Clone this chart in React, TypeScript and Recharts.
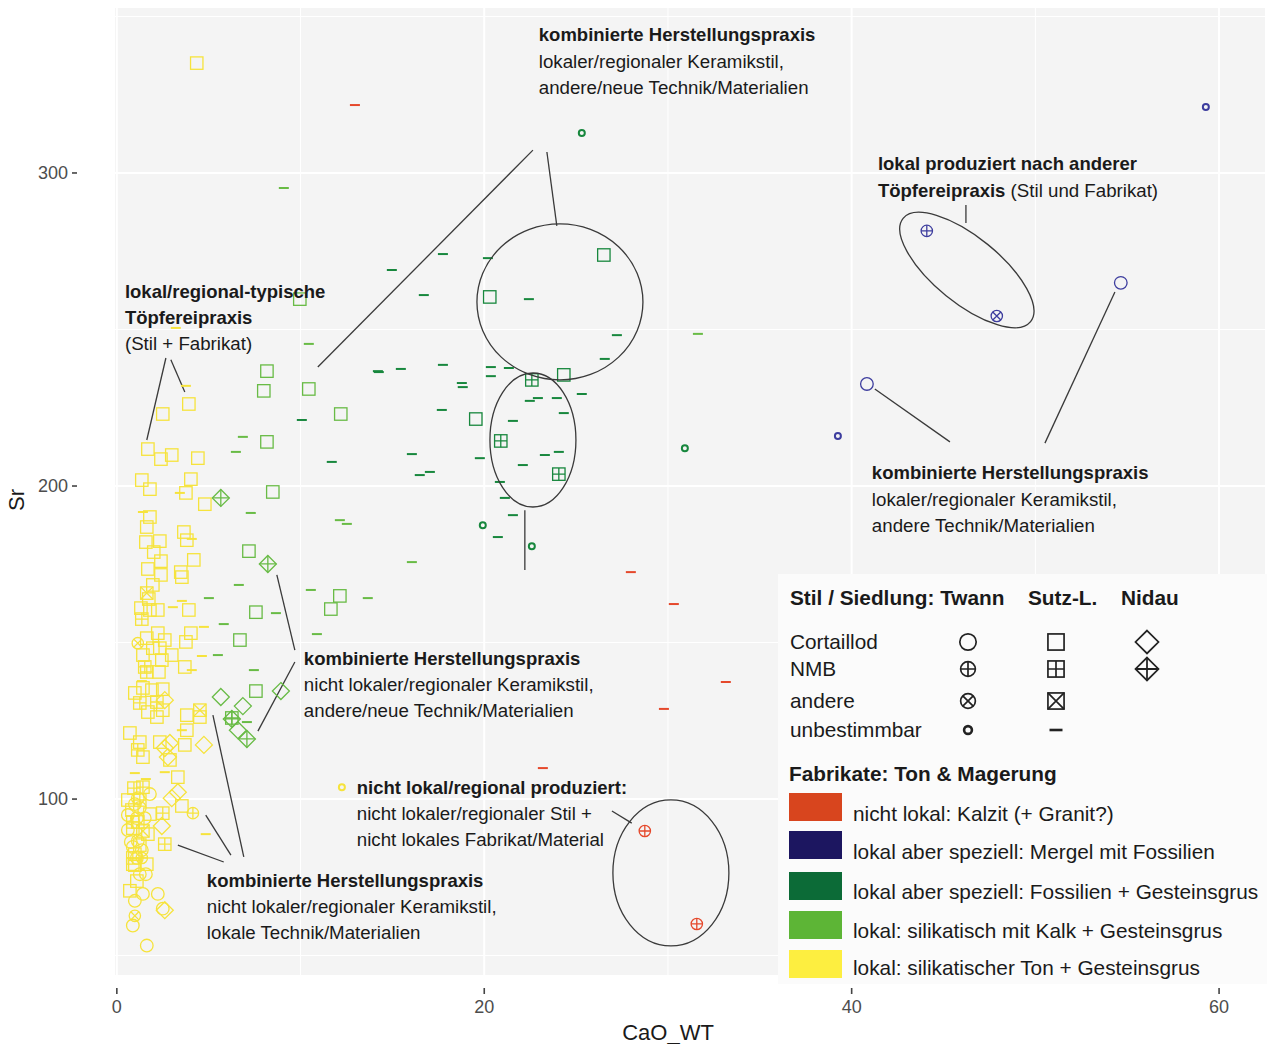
import React from "react";
import {
  ScatterChart,
  Scatter,
  XAxis,
  YAxis,
  CartesianGrid,
  ReferenceLine,
  ReferenceDot,
  Legend,
  Customized,
} from "recharts";

type Pair = [number, number];

// ---- data (CaO_WT, Sr) ----
const yellowSquare: Pair[] = [
  [4.35, 335.1], [3.92, 226.2], [2.5, 223.0], [1.69, 211.8], [2.4, 208.6], [2.99, 209.9], [4.41, 208.9],
  [1.36, 201.9], [1.8, 199.0], [4.03, 202.2], [3.76, 197.8], [4.79, 194.2], [1.8, 190.1], [1.63, 186.9],
  [3.65, 185.3], [3.81, 182.7], [1.58, 182.1], [2.34, 182.4], [2.01, 178.9], [2.4, 176.0], [4.19, 176.4],
  [1.69, 173.5], [2.4, 171.6], [3.48, 172.5], [3.54, 170.9], [1.96, 168.4], [1.74, 163.9], [1.31, 161.0],
  [2.23, 160.4], [1.8, 160.4], [3.92, 160.4], [4.03, 153.0], [3.76, 150.2], [3.7, 142.2], [2.29, 140.6],
  [1.63, 151.4], [2.23, 153.0], [2.61, 150.8], [1.96, 148.2], [2.34, 148.2], [2.99, 146.0], [1.42, 146.0],
  [2.45, 144.4], [0.98, 133.9], [1.42, 135.5], [1.91, 134.8], [2.5, 135.1], [1.69, 127.8], [2.18, 126.2],
  [2.5, 128.4], [3.81, 126.8], [4.52, 126.2], [3.81, 122.0], [0.71, 121.1], [1.25, 118.2], [2.34, 118.2],
  [3.7, 117.3], [1.42, 113.4], [2.89, 112.5], [3.32, 107.0], [3.54, 97.8], [1.8, 95.2], [0.87, 90.7],
  [1.69, 88.8], [0.98, 82.4], [0.87, 79.2], [1.63, 79.2], [1.09, 73.8], [0.71, 70.7],
  [0.82, 96.5], [1.14, 92.7], [0.6, 99.7], [1.25, 85.3], [0.98, 78.9],
];
const yellowSquarePlus: Pair[] = [
  [1.36, 157.5], [1.52, 142.2], [1.63, 140.6], [1.25, 130.7], [2.18, 131.0], [1.14, 115.7], [0.93, 103.5],
  [1.42, 103.8], [2.5, 95.5], [2.61, 85.6], [0.87, 81.2], [1.25, 99.7], [0.87, 92.7],
];
const yellowSquareX: Pair[] = [[1.63, 165.8], [4.52, 128.4], [1.42, 89.8]];
const yellowCircle: Pair[] = [
  [1.8, 101.6], [1.25, 97.2], [1.52, 93.9], [1.09, 93.9], [1.14, 86.6], [1.58, 76.0], [1.25, 76.0],
  [1.42, 69.7], [2.23, 69.7], [0.98, 67.5], [0.87, 59.6], [1.63, 53.2], [0.98, 98.4], [2.5, 65.0],
  [0.87, 84.7], [1.36, 83.7], [0.6, 94.9], [0.6, 90.1], [1.14, 100.3], [0.76, 86.3], [1.09, 81.2],
];
const yellowCirclePlus: Pair[] = [[4.14, 95.5], [1.36, 81.2]];
const yellowCircleX: Pair[] = [[1.14, 149.8], [0.98, 62.7]];
const yellowDot: Pair[] = [[12.25, 103.8]];
const yellowDiamond: Pair[] = [
  [2.61, 131.6], [2.89, 117.9], [2.61, 116.3], [4.74, 117.3], [2.78, 113.4], [3.32, 102.2], [2.99, 100.3],
  [2.45, 91.4], [2.61, 64.5],
];
const yellowDash: Pair[] = [
  [3.21, 250.5], [3.76, 232.0], [1.42, 191.7], [3.43, 197.8], [4.08, 183.1], [3.54, 163.3], [3.05, 161.3],
  [4.74, 155.0], [4.63, 145.7], [4.08, 141.2], [1.36, 137.7], [3.54, 122.0], [0.98, 108.3], [1.58, 106.4],
  [2.61, 108.6], [4.84, 88.8],
];

const greenSquare: Pair[] = [
  [9.96, 259.7], [8.0, 230.4], [8.17, 236.7], [10.45, 231.0], [12.19, 223.0], [8.17, 214.1], [8.49, 198.1],
  [7.19, 179.2], [7.57, 159.7], [12.14, 164.9], [11.65, 160.7], [6.7, 150.8], [7.57, 134.5],
];
const greenSquarePlus: Pair[] = [[6.26, 125.9]];
const greenDiamond: Pair[] = [[5.66, 132.6], [6.86, 129.7], [8.93, 134.5], [6.59, 122.0]];
const greenDiamondPlus: Pair[] = [[5.66, 196.2], [8.22, 175.1], [6.26, 125.6], [7.08, 119.2]];
const greenDash: Pair[] = [
  [9.09, 295.2], [10.45, 245.4], [6.86, 215.7], [6.48, 210.9], [7.29, 191.4], [12.14, 189.1], [12.52, 187.9],
  [16.06, 175.7], [13.66, 164.2], [6.64, 168.4], [5.01, 164.2], [8.66, 159.4], [10.56, 166.8], [5.82, 155.9],
  [5.5, 146.0], [10.89, 152.7], [7.46, 141.2], [7.08, 124.6], [31.63, 248.6],
];

const darkSquare: Pair[] = [[26.51, 273.8], [20.3, 260.4], [24.33, 235.5], [19.54, 221.4]];
const darkSquarePlus: Pair[] = [[22.59, 233.9], [20.9, 214.4], [24.06, 203.8]];
const darkDot: Pair[] = [[25.31, 312.8], [30.92, 212.1], [19.92, 187.5], [22.59, 180.8]];
const darkDash: Pair[] = [
  [17.75, 274.1], [14.97, 269.0], [16.71, 261.0], [20.2, 272.8], [22.43, 259.7], [27.22, 248.2], [26.56, 240.6],
  [14.21, 236.7], [14.26, 236.4], [15.46, 237.4], [17.75, 238.7], [20.36, 238.0], [20.36, 235.1], [21.34, 237.7],
  [18.78, 232.9], [18.83, 231.6], [25.31, 229.4], [22.48, 227.2], [22.92, 228.1], [23.95, 228.1], [24.33, 223.3],
  [17.69, 224.3], [21.56, 220.8], [10.07, 221.1], [16.06, 210.2], [19.76, 208.9], [23.3, 209.9], [24.06, 210.9],
  [22.1, 206.7], [11.7, 207.7], [16.49, 203.5], [17.04, 204.5], [20.85, 201.3], [21.12, 196.2], [21.56, 190.7],
  [20.74, 183.7],
];

const navyCircle: Pair[] = [[54.65, 264.9], [40.83, 232.6]];
const navyCirclePlus: Pair[] = [[44.09, 281.5]];
const navyCircleX: Pair[] = [[47.9, 254.3]];
const navyDot: Pair[] = [[59.28, 321.1], [39.25, 216.0]];

const redDash: Pair[] = [[12.96, 321.7], [27.98, 172.5], [30.32, 162.3], [33.15, 137.4], [29.78, 128.8], [23.19, 109.9]];
const redCirclePlus: Pair[] = [[28.74, 89.8], [31.57, 60.1]];

const xTicks = [0, 20, 40, 60];
const yTicks = [100, 200, 300];

// annotation texts: [x, y] anchor, lines of [text, bold]
type Seg = [string, boolean];
const notes: { at: Pair; lines: Seg[][] }[] = [
  { at: [22.97, 344.1], lines: [[["kombinierte Herstellungspraxis", true]], [["lokaler/regionaler Keramikstil,", false]], [["andere/neue Technik/Materialien", false]]] },
  { at: [41.43, 302.9], lines: [[["lokal produziert nach anderer", true]], [["Töpfereipraxis", true], [" (Stil und Fabrikat)", false]]] },
  { at: [0.44, 262.3], lines: [[["lokal/regional-typische", true]], [["Töpfereipraxis", true]], [["(Stil + Fabrikat)", false]]] },
  { at: [41.1, 204.2], lines: [[["kombinierte Herstellungspraxis", true]], [["lokaler/regionaler Keramikstil,", false]], [["andere Technik/Materialien", false]]] },
  { at: [10.18, 145.0], lines: [[["kombinierte Herstellungspraxis", true]], [["nicht lokaler/regionaler Keramikstil,", false]], [["andere/neue Technik/Materialien", false]]] },
  { at: [13.06, 103.8], lines: [[["nicht lokal/regional produziert:", true]], [["nicht lokaler/regionaler Stil +", false]], [["nicht lokales Fabrikat/Material", false]]] },
  { at: [4.9, 74.1], lines: [[["kombinierte Herstellungspraxis", true]], [["nicht lokaler/regionaler Keramikstil,", false]], [["lokale Technik/Materialien", false]]] },
];

// connector lines [x1, y1, x2, y2]
const connectors: [number, number, number, number][] = [
  [22.65, 307.3, 10.94, 238.0],
  [23.41, 306.7, 23.95, 283.1],
  [2.67, 240.9, 1.63, 214.7],
  [2.94, 240.3, 3.7, 230.0],
  [46.22, 289.8, 46.22, 284.0],
  [41.26, 231.0, 45.35, 214.1],
  [54.33, 262.0, 50.52, 213.7],
  [22.21, 192.3, 22.21, 173.2],
  [8.71, 171.6, 9.69, 147.6],
  [9.69, 143.8, 7.68, 121.7],
  [5.23, 126.8, 6.91, 81.5],
  [4.84, 94.9, 6.21, 82.1],
  [3.32, 85.3, 5.82, 79.9],
  [26.95, 96.2, 28.03, 92.3],
];

// encircled groups: centre [x, y], radii in px, rotation
const rings: { at: Pair; rx: number; ry: number; rot: number }[] = [
  { at: [24.12, 258.8], rx: 83, ry: 78, rot: 0 },
  { at: [22.65, 214.7], rx: 43, ry: 67, rot: 0 },
  { at: [46.27, 269.0], rx: 82, ry: 33, rot: 39 },
  { at: [30.16, 76.4], rx: 58, ry: 73, rot: 0 },
];

const RED = "#e5482b";
const NAVY = "#3d3d9e";
const DARK = "#17873d";
const GREEN = "#68bb45";
const YELLOW = "#f6e33c";
const FONT = "'Liberation Sans', Arial, Helvetica, sans-serif";

type Kind = "circle" | "circlePlus" | "circleX" | "dot" | "square" | "squarePlus" | "squareX" | "dash" | "diamond" | "diamondPlus";

function Marker({ cx, cy, kind, color, k = 1 }: { cx: number; cy: number; kind: Kind; color: string; k?: number }) {
  const sw = 1.3 * k;
  const st = { fill: "none", stroke: color, strokeWidth: sw };
  const r = 6.3 * k;
  const h = 6.2 * k;
  const d = 8.5 * k;
  switch (kind) {
    case "circle":
      return <circle cx={cx} cy={cy} r={r} {...st} />;
    case "circlePlus":
      return (
        <g {...st}>
          <circle cx={cx} cy={cy} r={r * 0.9} />
          <path d={`M${cx - r * 0.9},${cy}H${cx + r * 0.9}M${cx},${cy - r * 0.9}V${cy + r * 0.9}`} />
        </g>
      );
    case "circleX": {
      const q = r * 0.9 * 0.707;
      return (
        <g {...st}>
          <circle cx={cx} cy={cy} r={r * 0.9} />
          <path d={`M${cx - q},${cy - q}L${cx + q},${cy + q}M${cx - q},${cy + q}L${cx + q},${cy - q}`} />
        </g>
      );
    }
    case "dot":
      return <circle cx={cx} cy={cy} r={3 * k} fill="none" stroke={color} strokeWidth={2 * k} />;
    case "square":
      return <rect x={cx - h} y={cy - h} width={2 * h} height={2 * h} {...st} />;
    case "squarePlus":
      return (
        <g {...st}>
          <rect x={cx - h} y={cy - h} width={2 * h} height={2 * h} />
          <path d={`M${cx - h},${cy}H${cx + h}M${cx},${cy - h}V${cy + h}`} />
        </g>
      );
    case "squareX":
      return (
        <g {...st}>
          <rect x={cx - h} y={cy - h} width={2 * h} height={2 * h} />
          <path d={`M${cx - h},${cy - h}L${cx + h},${cy + h}M${cx - h},${cy + h}L${cx + h},${cy - h}`} />
        </g>
      );
    case "dash":
      return <line x1={cx - 5 * k} x2={cx + 5 * k} y1={cy} y2={cy} stroke={color} strokeWidth={2 * k} />;
    case "diamond":
      return <path d={`M${cx},${cy - d}L${cx + d},${cy}L${cx},${cy + d}L${cx - d},${cy}Z`} {...st} />;
    case "diamondPlus":
      return (
        <g {...st}>
          <path d={`M${cx},${cy - d}L${cx + d},${cy}L${cx},${cy + d}L${cx - d},${cy}Z`} />
          <path d={`M${cx - d},${cy}H${cx + d}M${cx},${cy - d}V${cy + d}`} />
        </g>
      );
  }
  return null;
}

const series: { data: Pair[]; kind: Kind; color: string }[] = [
  { data: yellowSquare, kind: "square", color: YELLOW },
  { data: yellowSquarePlus, kind: "squarePlus", color: YELLOW },
  { data: yellowSquareX, kind: "squareX", color: YELLOW },
  { data: yellowCircle, kind: "circle", color: YELLOW },
  { data: yellowCirclePlus, kind: "circlePlus", color: YELLOW },
  { data: yellowCircleX, kind: "circleX", color: YELLOW },
  { data: yellowDot, kind: "dot", color: YELLOW },
  { data: yellowDiamond, kind: "diamond", color: YELLOW },
  { data: yellowDash, kind: "dash", color: YELLOW },
  { data: greenSquare, kind: "square", color: GREEN },
  { data: greenSquarePlus, kind: "squarePlus", color: GREEN },
  { data: greenDiamond, kind: "diamond", color: GREEN },
  { data: greenDiamondPlus, kind: "diamondPlus", color: GREEN },
  { data: greenDash, kind: "dash", color: GREEN },
  { data: darkSquare, kind: "square", color: DARK },
  { data: darkSquarePlus, kind: "squarePlus", color: DARK },
  { data: darkDot, kind: "dot", color: DARK },
  { data: darkDash, kind: "dash", color: DARK },
  { data: navyCircle, kind: "circle", color: NAVY },
  { data: navyCirclePlus, kind: "circlePlus", color: NAVY },
  { data: navyCircleX, kind: "circleX", color: NAVY },
  { data: navyDot, kind: "dot", color: NAVY },
  { data: redDash, kind: "dash", color: RED },
  { data: redCirclePlus, kind: "circlePlus", color: RED },
];

const toPts = (a: Pair[]) => a.map(([x, y]) => ({ x, y }));

const YTick = (p: any) => (
  <g>
    <text x={68} y={p.y} dy="0.35em" textAnchor="end" fontSize={18} fill="#4d4d4d" fontFamily={FONT}>
      {p.payload.value}
    </text>
    <line x1={72} x2={77} y1={p.y} y2={p.y} stroke="#444" strokeWidth={1.6} />
  </g>
);

const XTick = (p: any) => (
  <g>
    <line x1={p.x} x2={p.x} y1={988} y2={994} stroke="#444" strokeWidth={1.6} />
    <text x={p.x} y={1007} dy="0.35em" textAnchor="middle" fontSize={18} fill="#4d4d4d" fontFamily={FONT}>
      {p.payload.value}
    </text>
  </g>
);

const styleRows: [string, Kind | null, Kind | null, Kind | null][] = [
  ["Cortaillod", "circle", "square", "diamond"],
  ["NMB", "circlePlus", "squarePlus", "diamondPlus"],
  ["andere", "circleX", "squareX", null],
  ["unbestimmbar", "dot", "dash", null],
];
const fabrics: [string, string][] = [
  ["nicht lokal: Kalzit (+ Granit?)", "#d8451e"],
  ["lokal aber speziell: Mergel mit Fossilien", "#1c1660"],
  ["lokal aber speziell: Fossilien + Gesteinsgrus", "#0c6b37"],
  ["lokal: silikatisch mit Kalk + Gesteinsgrus", "#5db536"],
  ["lokal: silikatischer Ton + Gesteinsgrus", "#fdee40"],
];

function KeyBox() {
  const rowY = [68, 95, 127, 156];
  const colX = [190, 278, 369];
  const swY = [219, 257, 298, 337, 376];
  const txY = [240, 278, 318, 357, 394];
  return (
    <svg width={489} height={410} style={{ display: "block", background: "#fbfbfb" }} fontFamily={FONT}>
      <text x={12} y={24} dy="0.35em" fontSize={20.8} fontWeight="bold" fill="#1a1a1a">Stil / Siedlung: Twann</text>
      <text x={250} y={24} dy="0.35em" fontSize={20.8} fontWeight="bold" fill="#1a1a1a">Sutz-L.</text>
      <text x={343} y={24} dy="0.35em" fontSize={20.8} fontWeight="bold" fill="#1a1a1a">Nidau</text>
      {styleRows.map((r, i) => (
        <g key={r[0]}>
          <text x={12} y={rowY[i]} dy="0.35em" fontSize={20.8} fill="#1a1a1a">{r[0]}</text>
          {[r[1], r[2], r[3]].map((k, j) =>
            k ? <Marker key={j} cx={colX[j]} cy={rowY[i]} kind={k} color="#222" k={k === "diamond" || k === "diamondPlus" ? 1.35 : 1.3} /> : null
          )}
        </g>
      ))}
      <text x={11} y={200} dy="0.35em" fontSize={20.8} fontWeight="bold" fill="#1a1a1a">Fabrikate: Ton &amp; Magerung</text>
      {fabrics.map((f, i) => (
        <g key={f[0]}>
          <rect x={11} y={swY[i]} width={53} height={28} fill={f[1]} />
          <text x={75} y={txY[i]} dy="0.35em" fontSize={20.8} fill="#1a1a1a">{f[0]}</text>
        </g>
      ))}
    </svg>
  );
}

function NoteText({ cx, cy, lines }: { cx: number; cy: number; lines: Seg[][] }) {
  return (
    <text x={cx} y={cy} fontFamily={FONT} fontSize={18.7} fill="#1a1a1a">
      {lines.map((ln, i) => (
        <tspan key={i} x={cx} y={cy + i * 26.3} dy="0.35em">
          {ln.map((s, j) => (
            <tspan key={j} fontWeight={s[1] ? "bold" : "normal"} fontSize={s[1] ? 18.5 : 18.7}>{s[0]}</tspan>
          ))}
        </tspan>
      ))}
    </text>
  );
}

function Titles() {
  return (
    <g fontFamily={FONT} fill="#1a1a1a">
      <text x={16} y={500} fontSize={22} textAnchor="middle" dy="0.35em" transform="rotate(-90 16 500)">Sr</text>
      <text x={668} y={1032} fontSize={22} textAnchor="middle" dy="0.35em">CaO_WT</text>
    </g>
  );
}

export default function App() {
  return (
    <div style={{ position: "absolute", left: 0, top: 0, background: "#fff", fontFamily: FONT }}>
      <ScatterChart width={1267} height={1044} margin={{ top: 8, right: 2, bottom: 0, left: 0 }}>
        <CartesianGrid
          fill="#f4f4f4"
          stroke="#ffffff"
          strokeWidth={1}
          verticalValues={[10, 30, 50]}
          horizontalValues={[50, 150, 250, 350]}
        />
        <CartesianGrid
          stroke="#ffffff"
          strokeWidth={2}
          verticalValues={xTicks}
          horizontalValues={yTicks}
        />
        <XAxis
          type="number"
          dataKey="x"
          domain={[-0.1, 62.5]}
          allowDataOverflow
          ticks={xTicks}
          height={69}
          axisLine={false}
          tickLine={false}
          tick={<XTick />}
        />
        <YAxis
          type="number"
          dataKey="y"
          domain={[43.8, 352.7]}
          allowDataOverflow
          ticks={yTicks}
          width={115}
          axisLine={false}
          tickLine={false}
          tick={<YTick />}
        />
        {series.map((s, i) => (
          <Scatter
            key={i}
            data={toPts(s.data)}
            isAnimationActive={false}
            legendType="none"
            shape={(p: any) => <Marker cx={p.cx} cy={p.cy} kind={s.kind} color={s.color} />}
          />
        ))}
        {rings.map((r, i) => (
          <ReferenceDot
            key={"r" + i}
            x={r.at[0]}
            y={r.at[1]}
            r={1}
            ifOverflow="visible"
            shape={(p: any) => (
              <ellipse
                cx={p.cx}
                cy={p.cy}
                rx={r.rx}
                ry={r.ry}
                transform={`rotate(${r.rot} ${p.cx} ${p.cy})`}
                fill="none"
                stroke="#3a3a3a"
                strokeWidth={1.3}
              />
            )}
          />
        ))}
        {connectors.map((c, i) => (
          <ReferenceLine
            key={"c" + i}
            segment={[{ x: c[0], y: c[1] }, { x: c[2], y: c[3] }]}
            stroke="#3a3a3a"
            strokeWidth={1.3}
            ifOverflow="visible"
          />
        ))}
        {notes.map((n, i) => (
          <ReferenceDot
            key={"n" + i}
            x={n.at[0]}
            y={n.at[1]}
            r={1}
            ifOverflow="visible"
            shape={(p: any) => <NoteText cx={p.cx} cy={p.cy} lines={n.lines} />}
          />
        ))}
        <Customized component={<Titles />} />
        <Legend
          layout="horizontal"
          verticalAlign="middle"
          align="center"
          content={() => <KeyBox />}
          wrapperStyle={{ position: "absolute", left: 778, top: 574, width: 489, height: 410, margin: 0 }}
        />
      </ScatterChart>
    </div>
  );
}
